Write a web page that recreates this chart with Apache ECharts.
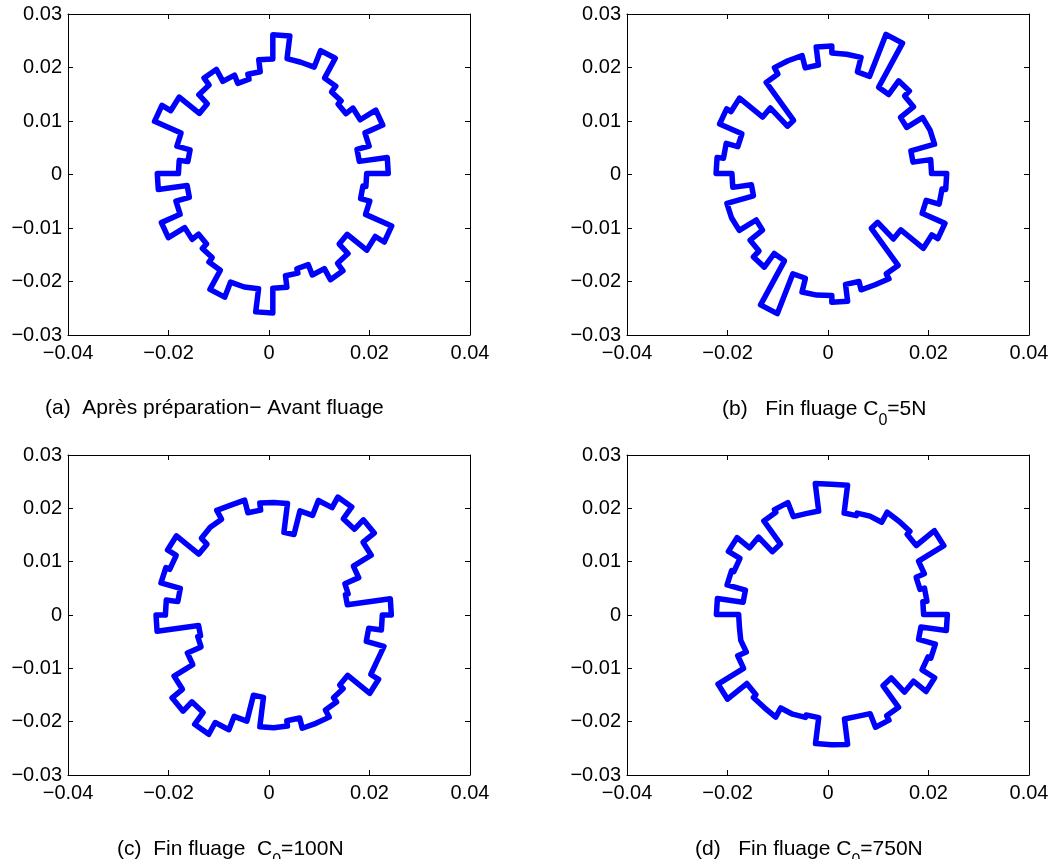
<!DOCTYPE html>
<html>
<head>
<meta charset="utf-8">
<script src="https://cdn.jsdelivr.net/npm/echarts@6/dist/echarts.min.js"></script>
<style>
html,body{margin:0;padding:0;background:#fff;}
#chart{width:1059px;height:859px;}
</style>
</head>
<body>
<div id="chart"></div>
<script>
// Sector width (degrees) of the stepped polar outlines, 48 sectors from 0° counter-clockwise
const sectorStepDeg = 7.5;

// Radius of each sector (data units)
const radiiA = [0.02297,0.01735,0.01984,0.02367,0.02008,0.01835,0.01921,0.02058,0.02486,0.02153,0.02166,0.02594,
                0.02142,0.01919,0.01824,0.01989,0.02247,0.02082,0.01843,0.02347,0.02548,0.01976,0.01705,0.01879,
                0.02299,0.01720,0.01996,0.02401,0.02024,0.01862,0.01982,0.02088,0.02502,0.02197,0.02174,0.02609,
                0.02145,0.01928,0.01844,0.02053,0.02293,0.02116,0.01867,0.02355,0.02561,0.01997,0.01809,0.01868];
const radiiB = [0.01985,0.01629,0.02116,0.02086,0.01722,0.02048,0.02183,0.01861,0.02814,0.01965,0.02247,0.02252,
                0.02385,0.02044,0.02281,0.02285,0.02145,0.01250,0.01734,0.02315,0.02417,0.01937,0.02175,0.02303,
                0.01988,0.01614,0.02161,0.02126,0.01738,0.02049,0.02206,0.01885,0.02836,0.02028,0.02293,0.02279,
                0.02407,0.02090,0.02251,0.02274,0.02166,0.01291,0.01731,0.02297,0.02437,0.01945,0.02212,0.02286];
const radiiC = [0.02341,0.01478,0.01534,0.01831,0.02242,0.02523,0.02275,0.02553,0.02325,0.02021,0.01562,0.02108,
                0.02119,0.01984,0.02229,0.02264,0.02073,0.02034,0.01877,0.02439,0.02239,0.02322,0.01924,0.02155,
                0.02341,0.01507,0.01564,0.01859,0.02289,0.02549,0.02303,0.02583,0.02328,0.02059,0.01558,0.02113,
                0.02101,0.02000,0.02198,0.02211,0.02057,0.01954,0.01858,0.02411,0.02231,0.02272,0.01908,0.02162];
const radiiD = [0.01833,0.01915,0.01823,0.01999,0.02581,0.02126,0.02206,0.02214,0.01998,0.01969,0.01920,0.02443,
                0.02477,0.01958,0.01987,0.02271,0.02212,0.01666,0.02054,0.02369,0.02103,0.02152,0.01774,0.02291,
                0.01848,0.01870,0.01835,0.02020,0.02608,0.02125,0.02199,0.02222,0.02023,0.01998,0.01951,0.02440,
                0.02456,0.01976,0.02012,0.02287,0.02192,0.01681,0.02055,0.02370,0.02079,0.02139,0.01794,0.02305];

// Outline centres (data units)
const centerA = [0.00076, 0.00019];
const centerB = [0.00076, 0.00019];
const centerC = [0.00093, 0.00000];
const centerD = [0.00070, 0.00009];

// Axis ticks
const xTicks = [-0.04, -0.02, 0, 0.02, 0.04];
const yTicks = [-0.03, -0.02, -0.01, 0, 0.01, 0.02, 0.03];

function outline(radii, c) {
  const pts = [];
  for (let k = 0; k < radii.length; k++) {
    const a1 = k * sectorStepDeg * Math.PI / 180;
    const a2 = (k + 1) * sectorStepDeg * Math.PI / 180;
    const r = radii[k];
    pts.push([c[0] + r * Math.cos(a1), c[1] + r * Math.sin(a1)]);
    pts.push([c[0] + r * Math.cos(a2), c[1] + r * Math.sin(a2)]);
  }
  pts.push(pts[0]);
  return pts;
}

function fmt(v) {
  if (Math.abs(v) < 1e-9) return '0';
  return (v < 0 ? '\u2212' : '') + Math.abs(v).toFixed(2);
}

const FONT = '"Liberation Sans", Arial, Helvetica, sans-serif';
const grids = [
  {left: 68, top: 14, width: 402, height: 321},
  {left: 627, top: 14, width: 402, height: 321},
  {left: 68, top: 455, width: 402, height: 320},
  {left: 627, top: 455, width: 402, height: 320}
];
const panels = [
  outline(radiiA, centerA),
  outline(radiiB, centerB),
  outline(radiiC, centerC),
  outline(radiiD, centerD)
];

const xAxes = [], yAxes = [], series = [];
const axisLine = {show: true, onZero: false, lineStyle: {color: '#000', width: 1}};
const tick = {show: true, inside: true, length: 5, lineStyle: {color: '#000', width: 1}};
grids.forEach((g, i) => {
  const xBase = {type: 'value', gridIndex: i, min: xTicks[0], max: xTicks[xTicks.length - 1], interval: 0.02,
    splitLine: {show: false}, axisLine: axisLine, axisTick: tick};
  const yBase = {type: 'value', gridIndex: i, min: yTicks[0], max: yTicks[yTicks.length - 1], interval: 0.01,
    splitLine: {show: false}, axisLine: axisLine, axisTick: tick};
  xAxes.push(Object.assign({}, xBase, {position: 'bottom',
    axisLabel: {show: true, formatter: fmt, color: '#000', fontSize: 20, fontFamily: FONT, margin: 8, showMinLabel: true, showMaxLabel: true}}));
  xAxes.push(Object.assign({}, xBase, {position: 'top', axisLabel: {show: false}}));
  yAxes.push(Object.assign({}, yBase, {position: 'left',
    axisLabel: {show: true, formatter: fmt, color: '#000', fontSize: 20, fontFamily: FONT, margin: 6, showMinLabel: true, showMaxLabel: true}}));
  yAxes.push(Object.assign({}, yBase, {position: 'right', axisLabel: {show: false}}));
  series.push({
    type: 'line', xAxisIndex: 2 * i, yAxisIndex: 2 * i, data: panels[i],
    showSymbol: false, symbol: 'none', animation: false, silent: true,
    lineStyle: {color: '#0000ff', width: 5.5, join: 'round', cap: 'round'}
  });
});

const normal = {fontSize: 21, fontFamily: FONT, fill: '#000', lineHeight: 24, verticalAlign: 'top'};
const sub = {fontSize: 16, fontFamily: FONT, fill: '#000', lineHeight: 16, verticalAlign: 'top', padding: [14, 0, 0, 0]};

const captions = [
  {x: 45, y: 398, text: '{n|(a)  Après préparation\u2212 Avant fluage}'},
  {x: 722, y: 399, text: '{n|(b)   Fin fluage C}{s|0}{n|=5N}'},
  {x: 117, y: 839, text: '{n|(c)  Fin fluage  C}{s|0}{n|=100N}'},
  {x: 695, y: 839, text: '{n|(d)   Fin fluage C}{s|0}{n|=750N}'}
];

const chart = echarts.init(document.getElementById('chart'), null, {renderer: 'canvas'});
chart.setOption({
  animation: false,
  backgroundColor: '#fff',
  grid: grids,
  xAxis: xAxes,
  yAxis: yAxes,
  series: series,
  graphic: captions.map(c => ({
    type: 'text', left: c.x, top: c.y, silent: true,
    style: {text: c.text, rich: {n: normal, s: sub}, fill: '#000'}
  }))
});
</script>
</body>
</html>
